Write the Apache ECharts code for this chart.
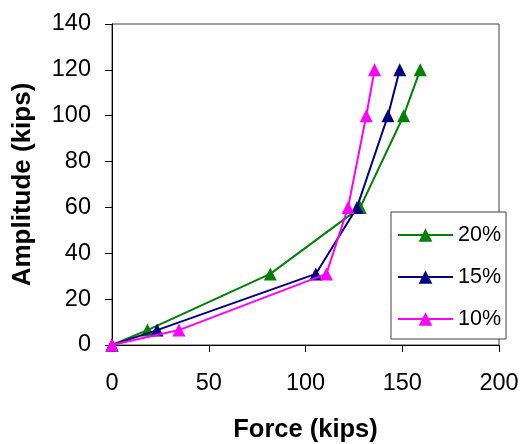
<!DOCTYPE html>
<html><head><meta charset="utf-8">
<script src="https://cdn.jsdelivr.net/npm/echarts@6/dist/echarts.min.js"></script>
<style>html,body{margin:0;padding:0;background:#fff}#c{width:526px;height:444px}</style>
</head><body><div id="c"></div>
<script>
const amplitude = [0, 6.5, 31, 60, 100, 120];
const force20 = [0, 18.3, 81.8, 128.3, 150.7, 159.3];
const force15 = [0, 23.3, 105.3, 126.6, 142.6, 148.7];
const force10 = [0, 34.6, 110.8, 122, 131.4, 135.7];
const seriesNames = ['20%', '15%', '10%'];
const seriesColors = ['#008000', '#000080', '#FF00FF'];
const xTicks = [0, 50, 100, 150, 200];
const yTicks = [0, 20, 40, 60, 80, 100, 120, 140];

const forces = [force20, force15, force10];
const chart = echarts.init(document.getElementById('c'), null, {renderer: 'canvas'});
const font = 'Liberation Sans, Arial, sans-serif';
chart.setOption({
  animation: false,
  backgroundColor: '#fff',
  grid: {left: 112, right: 27, top: 24, bottom: 99, show: true, borderColor: '#404040', borderWidth: 1, backgroundColor: 'transparent', containLabel: false, outerBoundsMode: 'none'},
  xAxis: {
    type: 'value', min: xTicks[0], max: xTicks[xTicks.length - 1], interval: 50,
    name: 'Force (kips)', nameLocation: 'middle', nameGap: 72,
    nameTextStyle: {fontFamily: font, fontSize: 25.5, fontWeight: 'bold', color: '#000'},
    axisLine: {show: true, lineStyle: {color: '#000', width: 1}},
    axisTick: {show: true, inside: false, length: 7, lineStyle: {color: '#000'}},
    axisLabel: {fontFamily: font, fontSize: 23.5, color: '#000', margin: 27},
    splitLine: {show: false}
  },
  yAxis: {
    type: 'value', min: yTicks[0], max: yTicks[yTicks.length - 1], interval: 20,
    name: 'Amplitude (kips)', nameLocation: 'middle', nameGap: 76, nameRotate: 90,
    nameTextStyle: {fontFamily: font, fontSize: 26, fontWeight: 'bold', color: '#000'},
    axisLine: {show: true, lineStyle: {color: '#000', width: 1}},
    axisTick: {show: true, inside: false, length: 7, lineStyle: {color: '#000'}},
    axisLabel: {fontFamily: font, fontSize: 23.5, color: '#000', margin: 21},
    splitLine: {show: false}
  },
  legend: {
    orient: 'vertical', left: 391, top: 212,
    padding: [12, 5, 9, 6], itemGap: 20, itemWidth: 55, itemHeight: 17,
    borderColor: '#404040', borderWidth: 1, backgroundColor: '#fff',
    textStyle: {fontFamily: font, fontSize: 21.5, color: '#000'},
    data: seriesNames
  },
  series: seriesNames.map((n, i) => ({
    name: n, type: 'line',
    data: forces[i].map((f, j) => [f, amplitude[j]]),
    symbol: 'triangle', symbolSize: 13,
    lineStyle: {color: seriesColors[i], width: 2},
    itemStyle: {color: seriesColors[i]},
    z: 2 + i
  }))
});
</script></body></html>
